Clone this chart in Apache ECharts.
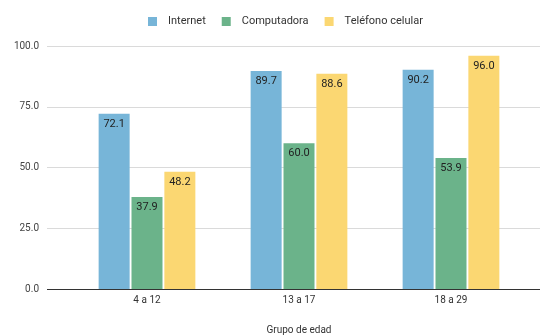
<!DOCTYPE html>
<html><head><meta charset="utf-8">
<script src="https://cdn.jsdelivr.net/npm/echarts@6/dist/echarts.min.js"></script>
<style>html,body{margin:0;padding:0;background:#fff}#c{width:542px;height:336px}</style>
</head><body><div id="c"></div>
<script>
const categories = ['4 a 12', '13 a 17', '18 a 29'];
const internet = [72.1, 89.7, 90.2];
const computadora = [37.9, 60.0, 53.9];
const telefono = [48.2, 88.6, 96.0];
const seriesNames = ['Internet', 'Computadora', 'Teléfono celular'];
const colors = ['#77b5d8', '#6bb38a', '#fbd772'];
const yTicks = [0, 25, 50, 75, 100];

const chart = echarts.init(document.getElementById('c'));
const font = 'Roboto, Arial, sans-serif';
const lbl = {
  show: true, position: 'insideTop', distance: 5,
  formatter: p => p.value.toFixed(1),
  color: '#222', fontSize: 11, fontFamily: font
};
chart.setOption({
  animation: false,
  color: colors,
  legend: {
    top: 11, left: 143, itemWidth: 9, itemHeight: 9, itemGap: 16,
    icon: 'rect',
    textStyle: { fontSize: 11, color: '#333', fontFamily: font, padding: [0, 0, 0, 6] },
    data: seriesNames
  },
  grid: [
    { left: 47, right: 2, top: 46, bottom: 47, containLabel: false, outerBoundsMode: 'none' },
    { left: 71, right: 15, top: 46, bottom: 47, containLabel: false, outerBoundsMode: 'none' }
  ],
  xAxis: [
    { gridIndex: 0, type: 'category', data: categories, show: false },
    {
      gridIndex: 1, type: 'category', data: categories,
      name: 'Grupo de edad', nameLocation: 'middle', nameGap: 36,
      nameTextStyle: { fontSize: 10, color: '#333', fontFamily: font },
      axisLine: { show: false }, axisTick: { show: false },
      axisLabel: { fontSize: 10, color: '#333', fontFamily: font, margin: 6 }
    }
  ],
  yAxis: [
    {
      gridIndex: 0, type: 'value', min: 0, max: 100, interval: 25,
      axisLabel: { formatter: v => v.toFixed(1), fontSize: 10, color: '#444', fontFamily: font, margin: 8 },
      axisLine: { show: false }, axisTick: { show: false },
      splitLine: { lineStyle: { color: '#dadada' } }
    },
    { gridIndex: 1, type: 'value', min: 0, max: 100, interval: 25, show: false }
  ],
  series: [
    { name: seriesNames[0], type: 'bar', data: internet, xAxisIndex: 1, yAxisIndex: 1, barWidth: 31, barGap: '6%', label: lbl },
    { name: seriesNames[1], type: 'bar', data: computadora, xAxisIndex: 1, yAxisIndex: 1, barWidth: 31, barGap: '6%', label: lbl },
    { name: seriesNames[2], type: 'bar', data: telefono, xAxisIndex: 1, yAxisIndex: 1, barWidth: 31, barGap: '6%', label: lbl,
      markLine: { silent: true, symbol: 'none', label: { show: false },
        lineStyle: { color: '#333', width: 1, type: 'solid' },
        data: [[{ coord: [-0.5, 0], x: 47 }, { coord: [2.5, 0], x: 540 }]] } }
  ]
});
</script></body></html>
